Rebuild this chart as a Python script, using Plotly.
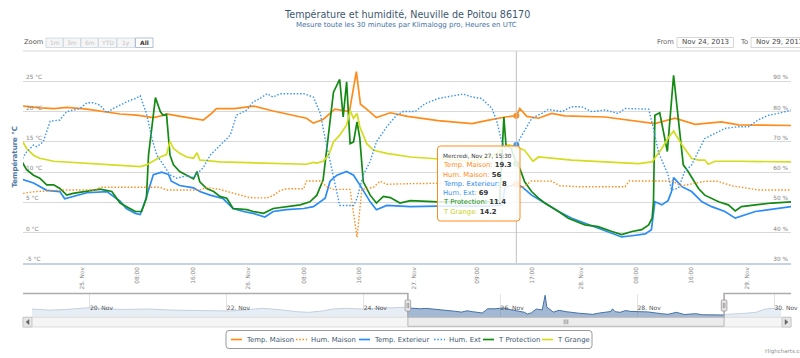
import plotly.graph_objects as go
import pandas as pd

FONT = "DejaVu Sans"
BASE = pd.Timestamp("2013-11-24 00:00")  # hours below are counted from this instant (UTC)

# ---------------- data (hours after 24 Nov 2013 00:00, value) ----------------
temp_maison_h = [15.5, 18.0, 20.0, 21.8, 24.7, 27.6, 29.5, 31.9, 34.3, 35.8, 36.2, 38.2, 40.1, 41.5, 42.6,
                 43.4, 46.0, 48.8, 51.6, 54.5, 56.4, 57.4, 58.8, 60.5, 62.6, 63.6, 64.2, 65.0, 66.5, 68.5,
                 71.0, 75.4, 80.3, 82.7, 85.1, 86.7, 87.2, 88.2, 89.9, 91.8, 93.7, 99.5, 104.3, 106.7, 109.6,
                 112.5, 116.3, 118.8, 126.4]
temp_maison_v = [20.9, 20.6, 20.5, 20.7, 20.4, 19.9, 19.6, 19.4, 19.0, 19.4, 19.6, 19.2, 18.9, 18.6, 19.6,
                 20.5, 20.5, 20.9, 20.1, 19.3, 18.9, 18.1, 18.7, 20.4, 20.0, 26.6, 21.2, 20.5, 19.0, 19.8,
                 19.2, 18.5, 18.0, 18.6, 19.1, 19.3, 20.5, 19.2, 18.9, 19.7, 19.3, 19.1, 18.3, 18.0, 18.9,
                 17.9, 18.3, 17.8, 17.7]

hum_maison_h = [15.5, 17.0, 18.9, 21.3, 26.1, 26.6, 35.3, 36.2, 41.0, 42.0, 43.9, 45.8, 47.8, 48.7, 50.7,
                51.6, 52.6, 53.5, 56.0, 56.4, 58.4, 59.3, 60.3, 62.7, 63.7, 64.4, 66.1, 67.0, 68.0, 71.4,
                75.0, 82.2, 84.1, 86.7, 87.5, 88.9, 91.8, 93.0, 95.7, 102.4, 103.0, 109.1, 110.6, 114.0, 115.7,
                118.0, 121.2, 121.7, 126.4]
hum_maison_v = [53.0, 53.5, 53.8, 54.1, 54.1, 55.0, 55.0, 54.1, 54.1, 54.9, 54.3, 53.1, 51.8, 51.5, 51.5,
                52.3, 53.9, 54.5, 54.5, 57.1, 57.1, 55.2, 54.3, 54.3, 38.5, 54.3, 55.0, 57.0, 56.0, 56.2,
                56.3, 55.8, 54.7, 56.0, 54.7, 57.1, 57.0, 55.5, 55.2, 55.2, 57.1, 57.1, 55.5, 57.0, 57.0,
                55.4, 54.3, 54.1, 54.1]

temp_ext_h = [15.4, 17.0, 18.9, 20.8, 21.5, 23.2, 24.7, 27.6, 29.5, 30.4, 31.7, 32.4, 33.1, 34.3, 35.5,
              36.5, 36.9, 38.1, 40.1, 41.0, 42.5, 44.4, 45.8, 47.3, 48.7, 50.4, 51.6, 53.5, 56.0, 57.4,
              58.4, 59.1, 59.8, 60.8, 62.2, 63.2, 64.1, 65.6, 66.5, 68.0, 71.4, 75.4, 82.7, 84.6, 85.1,
              86.7, 87.5, 88.9, 90.8, 92.8, 94.7, 96.6, 98.5, 100.5, 101.9, 103.4, 105.3, 106.2, 106.7, 107.7,
              108.6, 109.1, 109.4, 110.6, 112.0, 113.5, 114.9, 116.8, 118.3, 121.2, 123.6, 126.4]
temp_ext_v = [8.8, 8.2, 7.0, 6.8, 5.6, 6.1, 6.6, 6.8, 5.2, 4.0, 3.2, 3.0, 5.2, 9.6, 10.0,
              9.6, 8.5, 7.8, 7.4, 6.8, 6.2, 5.6, 4.0, 3.5, 3.2, 2.6, 3.5, 3.8, 4.0, 4.3,
              5.1, 5.7, 8.5, 9.5, 10.1, 9.5, 7.9, 5.1, 3.8, 4.5, 4.3, 4.4, 4.4, 4.6, 7.5,
              8.0, 7.6, 6.2, 4.9, 3.5, 2.4, 1.6, 0.8, 0.0, -0.7, -0.5, -0.2, 0.5, 5.1, 4.6,
              5.3, 6.8, 9.1, 7.6, 6.8, 5.1, 4.3, 3.5, 2.4, 3.5, 3.9, 4.3]

hum_ext_h = [15.4, 16.0, 17.0, 17.5, 18.4, 19.4, 20.8, 21.8, 22.7, 23.7, 24.7, 25.6, 26.6, 27.6, 28.5,
             29.5, 30.9, 31.7, 32.4, 33.3, 34.1, 34.8, 35.7, 36.7, 37.7, 39.1, 40.1, 41.5, 42.5, 43.9,
             45.4, 46.3, 47.8, 48.7, 49.7, 50.7, 51.6, 52.6, 56.0, 57.4, 58.4, 59.1, 59.8, 60.8, 61.2,
             63.2, 63.7, 64.6, 65.6, 66.5, 68.0, 69.4, 70.4, 72.1, 73.5, 75.4, 77.8, 79.0, 80.3, 81.7,
             83.2, 83.9, 84.6, 85.2, 86.7, 87.5, 88.9, 90.4, 91.3, 93.3, 94.7, 96.1, 97.6, 99.5, 101.4,
             102.4, 104.3, 105.8, 106.5, 107.2, 108.6, 109.1, 110.1, 111.0, 112.0, 113.0, 113.9, 115.4, 116.8, 118.7,
             120.2, 121.6, 123.1, 124.5, 126.4]
hum_ext_v = [64.5, 66.7, 68.9, 68.4, 70.0, 76.8, 77.2, 80.0, 80.5, 81.0, 82.9, 82.9, 82.1, 79.6, 81.0,
             82.1, 83.7, 84.3, 85.2, 79.4, 71.1, 65.6, 62.4, 59.1, 58.0, 58.8, 58.2, 61.5, 65.6, 68.9,
             72.2, 78.8, 80.5, 83.2, 84.3, 85.9, 84.8, 85.9, 85.9, 84.8, 79.4, 71.1, 63.5, 53.6, 49.0,
             49.0, 51.4, 59.1, 63.5, 70.0, 75.0, 78.8, 80.0, 80.0, 82.6, 84.3, 85.4, 85.8, 84.8, 84.3,
             81.0, 76.6, 70.0, 67.5, 69.0, 72.2, 77.7, 79.4, 80.7, 80.0, 81.6, 81.6, 80.0, 80.5, 79.4,
             81.0, 81.0, 80.8, 74.4, 66.7, 59.1, 54.1, 54.7, 60.2, 62.4, 66.7, 71.1, 72.8, 74.4, 75.0,
             75.0, 77.2, 78.8, 79.4, 80.5]

t_prot_h = [15.4, 16.0, 17.0, 17.9, 18.9, 19.9, 20.8, 21.8, 22.7, 24.7, 26.6, 28.3, 29.5, 30.9, 31.7,
            32.6, 33.3, 33.6, 34.3, 34.6, 35.3, 35.7, 36.2, 36.7, 37.2, 38.1, 39.1, 40.1, 40.6, 41.0,
            42.0, 43.0, 43.9, 44.9, 45.8, 47.8, 48.7, 50.2, 51.6, 53.5, 55.5, 56.9, 57.9, 58.8, 59.3,
            60.3, 61.2, 61.7, 62.2, 62.7, 63.2, 63.7, 64.1, 64.6, 65.6, 66.5, 67.5, 68.5, 69.9, 71.4,
            75.4, 80.3, 83.2, 84.3, 84.9, 85.2, 86.0, 86.7, 87.2, 87.9, 88.9, 89.9, 90.8, 92.8, 94.2,
            96.6, 98.5, 100.5, 101.9, 103.4, 104.8, 105.8, 106.3, 106.5, 106.7, 107.4, 108.5, 109.4, 110.1, 110.8,
            111.5, 113.0, 113.9, 115.9, 117.3, 118.3, 119.2, 121.2, 123.6, 126.4]
t_prot_v = [11.6, 10.4, 9.5, 9.0, 7.9, 7.9, 7.3, 6.2, 6.5, 6.9, 7.2, 6.8, 4.9, 4.0, 3.5,
            3.5, 5.7, 12.8, 18.9, 22.3, 20.0, 19.4, 19.5, 12.8, 11.2, 10.1, 9.5, 8.9, 10.1, 8.4,
            7.3, 6.8, 6.0, 5.7, 4.0, 3.8, 3.5, 3.2, 4.0, 4.3, 4.6, 5.1, 6.2, 8.7, 13.4,
            23.2, 25.3, 19.1, 24.9, 14.7, 15.0, 18.3, 15.6, 8.4, 6.2, 4.9, 6.0, 5.8, 4.9, 5.3,
            5.1, 5.1, 5.1, 5.3, 19.1, 14.5, 13.8, 11.4, 10.6, 8.4, 6.8, 5.7, 4.9, 3.5, 2.4,
            1.3, 1.0, 0.2, -0.3, 0.2, 0.5, 1.3, 2.4, 5.1, 19.4, 19.8, 13.4, 26.0, 18.3, 11.2,
            10.1, 7.3, 6.2, 5.1, 4.6, 3.6, 4.3, 4.6, 4.9, 5.1]

t_grange_h = [15.4, 16.0, 17.0, 17.9, 19.9, 24.7, 29.5, 32.4, 33.3, 34.3, 35.3, 36.2, 36.7, 37.2, 38.1,
              39.1, 40.1, 40.6, 41.0, 43.9, 48.7, 53.5, 56.4, 57.4, 57.9, 58.8, 59.6, 60.3, 61.2, 62.2,
              62.7, 63.2, 63.7, 64.1, 65.1, 66.1, 68.0, 71.4,
              75.4, 80.3, 83.6, 84.6, 85.6, 86.7, 87.9, 89.1, 89.9, 94.7, 99.5, 104.3, 106.3, 107.7, 108.6,
              109.4, 110.5, 112.0, 113.0, 113.9, 114.4, 115.4, 118.7, 126.4]
t_grange_v = [15.1, 13.9, 12.8, 12.3, 11.8, 11.5, 11.2, 10.9, 11.2, 11.8, 12.5, 12.9, 15.1, 13.9, 13.1,
              12.5, 12.3, 13.2, 12.0, 11.7, 11.5, 11.3, 11.3, 11.6, 11.5, 11.8, 12.8, 15.0, 16.1, 17.8,
              20.1, 18.9, 19.7, 17.5, 14.7, 13.6, 13.1, 12.5,
              12.2, 11.8, 12.8, 13.9, 14.5, 14.2, 13.6, 11.8, 12.5, 12.0, 11.7, 11.4, 11.7, 13.9, 15.6,
              16.8, 14.7, 12.3, 12.0, 12.0, 11.3, 11.8, 11.8, 11.7]

# navigator (Temp. Maison over the whole record)
nav_before_h = [-116.3, -110.3, -104.4, -98.6, -95.1, -90.4, -83.4, -75.2, -67.0, -57.7, -47.2, -42.5,
                -37.8, -35.5, -28.5, -23.8, -19.2, -14.5, -11.0, -6.3, -0.5, 4.2, 8.9, 12.4, 14.5]
nav_before_v = [20.4, 19.9, 20.2, 20.9, 21.1, 20.4, 20.2, 20.4, 19.9, 19.7, 19.5, 19.9,
                20.4, 20.7, 20.0, 19.2, 18.9, 19.5, 20.4, 20.7, 20.4, 20.7, 20.9, 21.4, 21.2]
nav_after_h = [127.5, 133.0, 137.5, 140.5, 143.0, 145.0, 146.3]
nav_after_v = [18.0, 18.4, 18.9, 20.3, 20.7, 20.4, 20.2]

x_tick_h = [24, 32, 40, 48, 56, 64, 72, 81, 89, 96, 104, 112, 120]
x_tick_text = ["25. Nov", "08:00", "16:00", "26. Nov", "08:00", "16:00", "27. Nov",
               "09:00", "17:00", "28. Nov", "08:00", "16:00", "29. Nov"]
temp_ticks = [-5, 0, 5, 10, 15, 20, 25, 30]
temp_tick_text = ["-5 °C", "0 °C", "5 °C", "10 °C", "15 °C", "20 °C", "25 °C", ""]
hum_ticks = [30, 40, 50, 60, 70, 80, 90, 100]
hum_tick_text = ["30 %", "40 %", "50 %", "60 %", "70 %", "80 %", "90 %", ""]
nav_tick_h = [-96, -48, 0, 48, 96, 144]
nav_tick_text = ["20. Nov", "22. Nov", "24. Nov", "26. Nov", "28. Nov", "30. Nov"]

view_start_h, view_end_h = 15.48, 126.35
nav_start_h, nav_end_h = -116.3, 146.3
temp_range = [-5, 30]
hum_range = [30, 100]
nav_range = [16.8, 27.4]

tooltip_h = 86.7
tooltip_header = "Mercredi, Nov 27, 15:30"
tooltip_values = [19.3, 56, 8, 69, 11.4, 14.2]

# ---------------- geometry helpers ----------------
W, H = 800, 358
ML, MR, MT, MB = 23, 9, 51, 31
PW, PH = W - ML - MR, H - MT - MB


def px(x):
    return (x - ML) / PW


def py(y):
    return (H - MB - y) / PH


def T(hours):
    return [BASE + pd.Timedelta(hours=h) for h in hours]


DOT = "1.5px,1.8px"
ORANGE, BLUE, BLUE2, GREEN, YELLOW = "#ff8c1a", "#2a8cf5", "#3a95f0", "#138a13", "#d4dc1e"
SOLID_W, DOT_W = 1.7, 1.4

series = [
    ("Temp. Maison", temp_maison_h, temp_maison_v, ORANGE, "solid", "y"),
    ("Hum. Maison", hum_maison_h, hum_maison_v, ORANGE, DOT, "y2"),
    ("Temp. Exterieur", temp_ext_h, temp_ext_v, BLUE, "solid", "y"),
    ("Hum. Ext", hum_ext_h, hum_ext_v, BLUE2, DOT, "y2"),
    ("T Protection", t_prot_h, t_prot_v, GREEN, "solid", "y"),
    ("T Grange", t_grange_h, t_grange_v, YELLOW, "solid", "y"),
]

fig = go.Figure()
for name, hh, vv, col, dash, ax in series:
    fig.add_trace(go.Scatter(x=T(hh), y=vv, name=name, mode="lines", yaxis=ax, xaxis="x",
                             line=dict(color=col, width=DOT_W if dash == DOT else SOLID_W, dash=dash)))

# hover markers at the tooltip instant
for (name, hh, vv, col, dash, ax), val in zip(series, tooltip_values):
    fig.add_trace(go.Scatter(x=T([tooltip_h]), y=[val], mode="markers", yaxis=ax, xaxis="x",
                             marker=dict(size=6, color=col, line=dict(width=0)), showlegend=False))

# navigator series
fig.add_trace(go.Scatter(x=T(nav_before_h + [temp_maison_h[0]]), y=nav_before_v + [temp_maison_v[0]],
                         xaxis="x2", yaxis="y3", mode="lines", fill="tozeroy",
                         fillcolor="#e7edf4", line=dict(color="#c3d0e1", width=1)))
fig.add_trace(go.Scatter(x=T(temp_maison_h), y=temp_maison_v, xaxis="x2", yaxis="y3", mode="lines",
                         fill="tozeroy", fillcolor="rgba(69,114,167,0.5)", line=dict(color="#4572A7", width=1)))
fig.add_trace(go.Scatter(x=T([temp_maison_h[-1]] + nav_after_h), y=[temp_maison_v[-1]] + nav_after_v,
                         xaxis="x2", yaxis="y3", mode="lines", fill="tozeroy",
                         fillcolor="#e7edf4", line=dict(color="#c3d0e1", width=1)))

tickfont = dict(family=FONT, size=5.8, color="#858585")
fig.update_layout(
    width=W, height=H,
    margin=dict(l=ML, r=MR, t=MT, b=MB, pad=0, autoexpand=False),
    paper_bgcolor="white", plot_bgcolor="white", showlegend=False, hovermode=False,
    font=dict(family=FONT),
    xaxis=dict(domain=[0, 1], anchor="y", type="date", range=T([view_start_h, view_end_h]),
               tickmode="array", tickvals=T(x_tick_h), ticktext=x_tick_text, tickangle=-90,
               tickfont=tickfont, showgrid=False, zeroline=False, showline=True,
               linecolor="#c6d3e0", linewidth=1.5, ticks="", fixedrange=True),
    yaxis=dict(domain=[py(263), 1], anchor="x", range=temp_range, tickmode="array",
               tickvals=temp_ticks, ticktext=temp_tick_text, ticklabelposition="inside top",
               tickfont=tickfont, showgrid=True, gridcolor="#d9d9d9", gridwidth=1,
               zeroline=False, showline=False, ticks="", fixedrange=True),
    yaxis2=dict(overlaying="y", side="right", anchor="x", range=hum_range, tickmode="array",
                tickvals=hum_ticks, ticktext=hum_tick_text, ticklabelposition="inside top",
                tickfont=tickfont, showgrid=False, zeroline=False, showline=False, ticks="",
                fixedrange=True),
    xaxis2=dict(domain=[px(32), px(781)], anchor="y3", type="date", range=T([nav_start_h, nav_end_h]),
                tickmode="array", tickvals=T(nav_tick_h), ticktext=nav_tick_text,
                ticklabelposition="inside right", ticklabeloverflow="allow",
                tickfont=dict(family=FONT, size=6, color="#555"), showgrid=True, gridcolor="#e3e3e3",
                zeroline=False, showline=False, ticks="", fixedrange=True),
    yaxis3=dict(domain=[py(317), py(293.5)], anchor="x2", range=nav_range, showticklabels=False,
                showgrid=False, zeroline=False, showline=False, ticks="", fixedrange=True),
)

shapes = []


def sline(x0, y0, x1, y1, color, width=1, dash="solid"):
    shapes.append(dict(type="line", xref="paper", yref="paper", x0=px(x0), y0=py(y0), x1=px(x1), y1=py(y1),
                       line=dict(color=color, width=width, dash=dash), layer="above"))


def srect(x0, y0, x1, y1, fill, lc, width=1):
    shapes.append(dict(type="rect", xref="paper", yref="paper", x0=px(x0), y0=py(y0), x1=px(x1), y1=py(y1),
                       fillcolor=fill, line=dict(color=lc, width=width), layer="above"))


def spath(d, fill, lc, width=1):
    shapes.append(dict(type="path", xref="paper", yref="paper", path=d, fillcolor=fill,
                       line=dict(color=lc, width=width), layer="above"))


def rr(x0, y0, x1, y1, r):
    X, Y = px, py
    return (f"M {X(x0 + r)},{Y(y0)} L {X(x1 - r)},{Y(y0)} Q {X(x1)},{Y(y0)} {X(x1)},{Y(y0 + r)} "
            f"L {X(x1)},{Y(y1 - r)} Q {X(x1)},{Y(y1)} {X(x1 - r)},{Y(y1)} L {X(x0 + r)},{Y(y1)} "
            f"Q {X(x0)},{Y(y1)} {X(x0)},{Y(y1 - r)} L {X(x0)},{Y(y0 + r)} Q {X(x0)},{Y(y0)} {X(x0 + r)},{Y(y0)} Z")


annots = []


def text(x, y, s, size, color, xanchor="left", angle=0):
    annots.append(dict(x=px(x), y=py(y), xref="paper", yref="paper", text=s, showarrow=False,
                       font=dict(family=FONT, size=size, color=color), xanchor=xanchor,
                       yanchor="middle", textangle=angle, borderpad=0))


# top border line of the plot
sline(23, 51, 800, 51, "#d9d9d9", 1)

# crosshair + tooltip
shapes.append(dict(type="line", xref="x", yref="y domain", x0=T([tooltip_h])[0], x1=T([tooltip_h])[0],
                   y0=0, y1=1, line=dict(color="#c0c0c0", width=1), layer="above"))
spath(rr(437.5, 146, 520, 221, 3), "rgba(255,255,255,0.85)", ORANGE, 1)
text(442, 156, tooltip_header, 5.7, "#333333")
for i, ((name, hh, vv, col, dash, ax), val) in enumerate(zip(series, tooltip_values)):
    lab_col = "#c9cf12" if col == YELLOW else col
    text(442, 165.2 + i * 9.32, f"<span style='color:{lab_col}'>{name}: </span><b>{val:g}</b>", 6.8, "#333333")

# titles
text(406.5, 14, "Température et humidité, Neuville de Poitou 86170", 9.6, "#3E576F", "center")
text(406.5, 25, "Mesure toute les 30 minutes par Klimalogg pro, Heures en UTC", 7, "#4572A7", "center")
text(14.5, 157, "<b>Température °C</b>", 7, "#4d759e", "center", -90)

# range selector
text(23, 42.5, "Zoom", 6.7, "#555555")
buttons = [("1m", 46, 63), ("3m", 63.5, 80.5), ("6m", 81, 98), ("YTD", 98.5, 116.5), ("1y", 117, 135), ("All", 135.5, 153)]
for lab, x0, x1 in buttons:
    sel = lab == "All"
    srect(x0, 38, x1, 47.5, "#ffffff" if sel else "#f6f6f6", "#9db0c6" if sel else "#c9d5e1", 0.8)
    text((x0 + x1) / 2, 42.8, f"<b>{lab}</b>" if sel else lab, 6, "#333333" if sel else "#c4c4c4", "center")

# date inputs
text(656, 42.5, "From", 6.8, "#666666")
srect(677, 37.5, 733.5, 47.5, "#ffffff", "#cccccc", 0.8)
text(705.2, 42.5, "Nov 24, 2013", 7, "#444444", "center")
text(739, 42.5, "To", 6.8, "#666666")
srect(751, 37.5, 815, 47.5, "#ffffff", "#cccccc", 0.8)
text(755, 42.5, "Nov 29, 2013", 7, "#444444")

# navigator chrome
NAV_L, NAV_R = 32, 781


def nav_px(h):
    return NAV_L + (h - nav_start_h) / (nav_end_h - nav_start_h) * (NAV_R - NAV_L)


hL, hR = nav_px(view_start_h), nav_px(view_end_h)
srect(23, 317.3, 791, 327, "#f5f5f5", "#d6d6d6", 0.8)
srect(hL, 317.3, hR, 326.3, "#ececec", "#a9a9a9", 0.8)
cx = (hL + hR) / 2
for dx in (-1.8, 0, 1.8):
    sline(cx + dx, 319.5, cx + dx, 324.2, "#777777", 0.7)
srect(23, 317.3, 32, 327, "#e6e6e6", "#c2c2c2", 0.8)
srect(782, 317.3, 791, 327, "#e6e6e6", "#c2c2c2", 0.8)
spath(f"M {px(29)},{py(319.6)} L {px(26)},{py(322.1)} L {px(29)},{py(324.6)} Z", "#666666", "#666666", 0.5)
spath(f"M {px(785)},{py(319.6)} L {px(788)},{py(322.1)} L {px(785)},{py(324.6)} Z", "#666666", "#666666", 0.5)
spath(f"M {px(23)},{py(293.5)} L {px(hL)},{py(293.5)} L {px(hL)},{py(317.3)} "
      f"M {px(hR)},{py(317.3)} L {px(hR)},{py(293.5)} L {px(791)},{py(293.5)}",
      "rgba(0,0,0,0)", "#ababb0", 1.6)
for hx in (hL, hR):
    spath(rr(hx - 2.8, 300, hx + 2.8, 311, 1), "#ebe7e8", "#999999", 0.8)
    sline(hx - 0.8, 302.8, hx - 0.8, 308.2, "#666666", 0.6)
    sline(hx + 0.8, 302.8, hx + 0.8, 308.2, "#666666", 0.6)

# custom legend
spath(rr(226, 330.5, 592, 348.5, 3), "#ffffff", "#9a9a9a", 1)
legend_text_x = [245, 310, 373, 448, 497, 556]
for (name, hh, vv, col, dash, ax), tx in zip(series, legend_text_x):
    sline(tx - 14, 339.5, tx - 3, 339.5, col, DOT_W if dash == DOT else SOLID_W, dash)
    text(tx, 339.5, name, 6.9, "#3E576F")

# credits
text(764, 351.5, "Highcharts.com", 5.5, "#909090")

fig.update_layout(shapes=shapes, annotations=annots)
fig.write_html("out.html", config={"displayModeBar": False},
               post_script="document.body.style.margin='0';document.body.style.padding='0';")
